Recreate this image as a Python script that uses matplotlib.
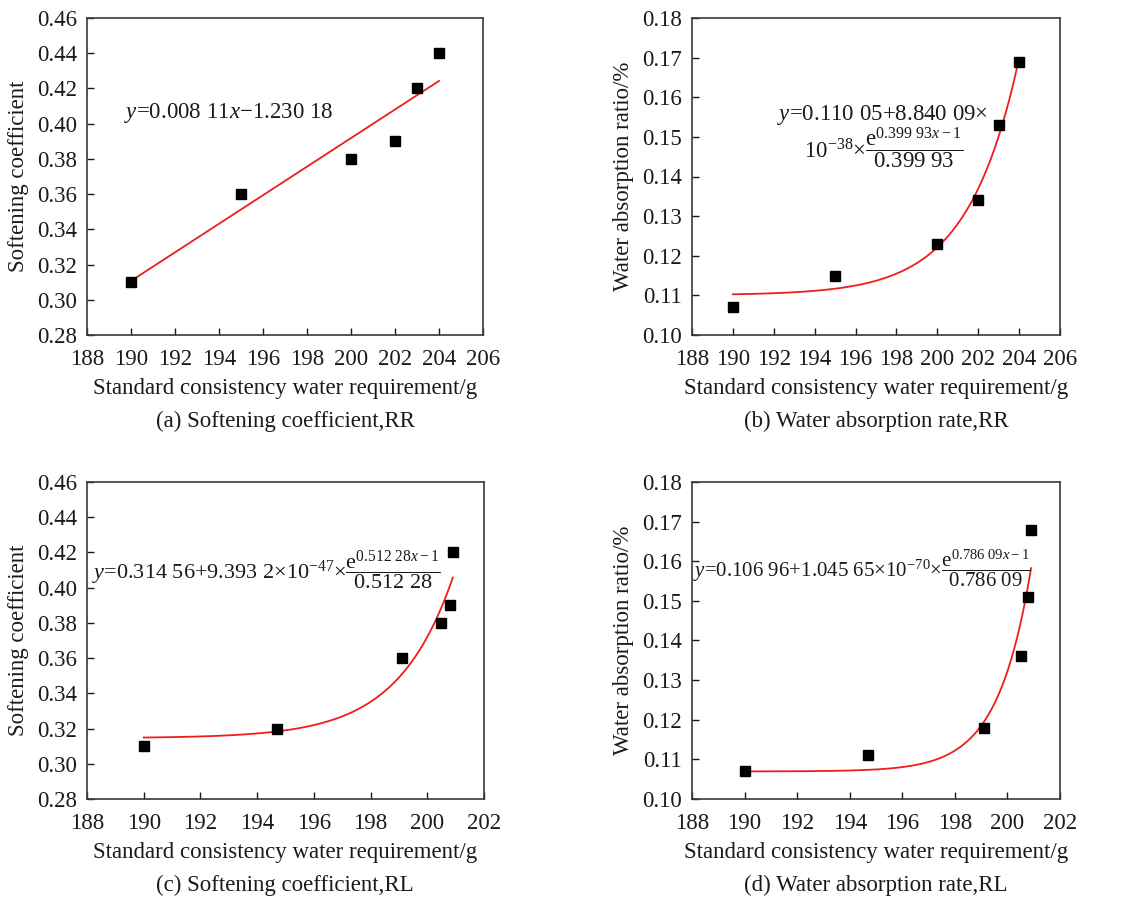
import numpy as np
import matplotlib
matplotlib.use("Agg")
import matplotlib.pyplot as plt

plt.rcParams['font.family'] = ['Liberation Serif', 'DejaVu Serif']
plt.rcParams['mathtext.fontset'] = 'custom'
plt.rcParams['mathtext.rm'] = 'Liberation Serif'
plt.rcParams['mathtext.it'] = 'Liberation Serif:italic'
plt.rcParams['mathtext.bf'] = 'Liberation Serif:bold'

# ---------------- data ----------------
x_rr = [190, 195, 200, 202, 203, 204]
soft_rr = [0.31, 0.36, 0.38, 0.39, 0.42, 0.44]
wabs_rr = [0.107, 0.115, 0.123, 0.134, 0.153, 0.169]

x_rl = [190, 194.7, 199.1, 200.5, 200.8, 200.9]
soft_rl = [0.31, 0.32, 0.36, 0.38, 0.39, 0.42]
wabs_rl = [0.107, 0.111, 0.118, 0.136, 0.151, 0.168]

# fitted equation coefficients (as printed on the chart)
lin_a = (0.00811, -1.23018)
exp_b = (0.11005, 8.84009e-38, 0.39993)
exp_c = (0.31456, 9.3932e-47, 0.51228)
exp_d = (0.10696, 1.04565e-70, 0.78609)

xlabel = "Standard consistency water requirement/g"
captions = ["(a) Softening coefficient,RR", "(b) Water absorption rate,RR",
            "(c) Softening coefficient,RL", "(d) Water absorption rate,RL"]
ylabels = ["Softening coefficient", "Water absorption ratio/%",
           "Softening coefficient", "Water absorption ratio/%"]

FS = 16.5
TC = '#1a1a1a'
RED = '#f01c1c'

fig = plt.figure(figsize=(11.23, 8.98), dpi=100)

rects = [
    [87/1123, 1-335/898, 396/1123, 317/898],
    [692/1123, 1-335/898, 368/1123, 317/898],
    [87/1123, 1-799/898, 397/1123, 317/898],
    [692/1123, 1-799/898, 368/1123, 317/898],
]
axs = [fig.add_axes(r) for r in rects]


def style(ax, xlim, xticks, ylim, yticks, yfmt, ylabel):
    ax.set_xlim(*xlim)
    ax.set_ylim(*ylim)
    ax.set_xticks(xticks)
    ax.set_yticks(yticks)
    ax.set_yticklabels([yfmt.format(v) for v in yticks])
    ax.tick_params(direction='in', length=5, width=1.0, labelsize=FS,
                   colors=TC, top=False, right=False)
    ax.tick_params(axis='x', pad=10)
    ax.tick_params(axis='y', pad=7)
    for s in ax.spines.values():
        s.set_color('#3a3a3a')
        s.set_linewidth(1.2)
    ax.set_xlabel(xlabel, fontsize=FS, color=TC, labelpad=6)
    ax.set_ylabel(ylabel, fontsize=FS, color=TC, labelpad=6)


def expfit(x, p):
    a, b, k = p
    return a + b * (np.exp(k * x) - 1) / k


mk = dict(marker='s', color='black', markersize=7, linestyle='none', zorder=3)
lc = dict(color=RED, linewidth=1.3, zorder=2)

# (a)
ax = axs[0]
xf = np.linspace(min(x_rr), max(x_rr), 200)
ax.plot(xf, lin_a[0] * xf + lin_a[1], **lc)
ax.plot(x_rr, soft_rr, **mk)
style(ax, (188, 206), np.arange(188, 207, 2), (0.28, 0.46),
      np.round(np.arange(0.28, 0.461, 0.02), 2), "{:.2f}", ylabels[0])
ax.text(0.094, 0.70, r"$y$=0.008 11$x$−1.230 18", transform=ax.transAxes,
        fontsize=FS, color=TC, ha='left', va='center')

# (b)
ax = axs[1]
xf = np.linspace(min(x_rr), max(x_rr), 300)
ax.plot(xf, expfit(xf, exp_b), **lc)
ax.plot(x_rr, wabs_rr, **mk)
style(ax, (188, 206), np.arange(188, 207, 2), (0.10, 0.18),
      np.round(np.arange(0.10, 0.181, 0.01), 2), "{:.2f}", ylabels[1])
ax.text(0.23, 0.695, r"$y$=0.110 05+8.840 09×", transform=ax.transAxes,
        fontsize=FS, color=TC, ha='left', va='center')
ax.text(0.305, 0.59, r"10$^{-38}$×$\dfrac{\mathrm{e}^{0.399\ 93x-1}}{0.399\ 93}$",
        transform=ax.transAxes, fontsize=FS, color=TC, ha='left', va='center')

# (c)
ax = axs[2]
xf = np.linspace(min(x_rl), max(x_rl), 300)
ax.plot(xf, expfit(xf, exp_c), **lc)
ax.plot(x_rl, soft_rl, **mk)
style(ax, (188, 202), np.arange(188, 203, 2), (0.28, 0.46),
      np.round(np.arange(0.28, 0.461, 0.02), 2), "{:.2f}", ylabels[2])
ax.text(0.012, 0.72,
        r"$y$=0.314 56+9.393 2×10$^{-47}$×$\dfrac{\mathrm{e}^{0.512\ 28x-1}}{0.512\ 28}$",
        transform=ax.transAxes, fontsize=16, color=TC, ha='left', va='center')

# (d)
ax = axs[3]
xf = np.linspace(min(x_rl), max(x_rl), 300)
ax.plot(xf, expfit(xf, exp_d), **lc)
ax.plot(x_rl, wabs_rl, **mk)
style(ax, (188, 202), np.arange(188, 203, 2), (0.10, 0.18),
      np.round(np.arange(0.10, 0.181, 0.01), 2), "{:.2f}", ylabels[3])
ax.text(0.004, 0.728,
        r"$y$=0.106 96+1.045 65×10$^{-70}$×$\dfrac{\mathrm{e}^{0.786\ 09x-1}}{0.786\ 09}$",
        transform=ax.transAxes, fontsize=15, color=TC, ha='left', va='center')

# captions
cap_pos = [(285/1123, 1-421/898), (876/1123, 1-421/898),
           (285/1123, 1-885/898), (876/1123, 1-885/898)]
for (cx, cy), t in zip(cap_pos, captions):
    fig.text(cx, cy, t, fontsize=FS, color=TC, ha='center', va='center')

fig.savefig("out.png", dpi=100)
